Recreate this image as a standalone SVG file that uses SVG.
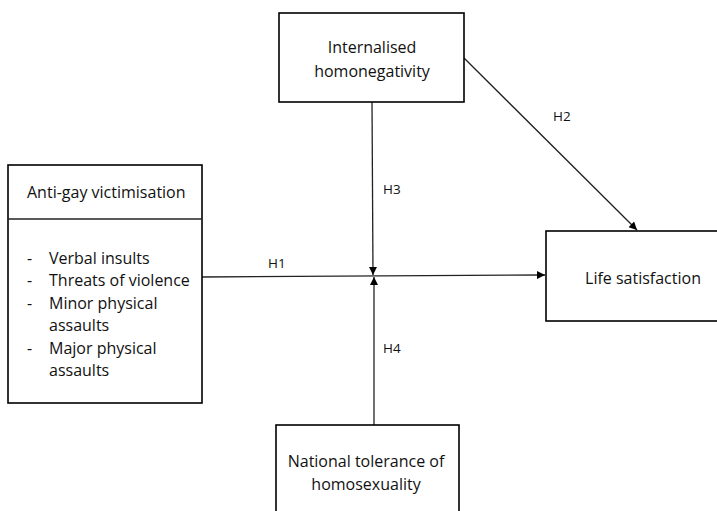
<svg xmlns="http://www.w3.org/2000/svg" width="717" height="511" viewBox="0 0 717 511">
<defs>
<marker id="arr" viewBox="0 0 10 10" refX="10" refY="5" markerWidth="9" markerHeight="8" markerUnits="userSpaceOnUse" orient="auto">
<path d="M0,0 L10,5 L0,10 Z" fill="#000"/>
</marker>
</defs>
<style>
.box{fill:#fff;stroke:#000;stroke-width:1.6}
.ln{fill:none;stroke:#222;stroke-width:1.3}
.t{font-family:"Open Sans","Liberation Sans",sans-serif;font-size:16px;fill:#111}
.c{text-anchor:middle}
.h{font-family:"Open Sans","Liberation Sans",sans-serif;font-size:13.5px;fill:#111}
</style>
<rect width="717" height="511" fill="#fff"/>
<g id="connectors">
<line class="ln" x1="202" y1="277" x2="545" y2="275" marker-end="url(#arr)"/>
<line class="ln" x1="372" y1="102" x2="373" y2="275" marker-end="url(#arr)"/>
<line class="ln" x1="374" y1="425" x2="374" y2="277" marker-end="url(#arr)"/>
<line class="ln" x1="464" y1="58" x2="637" y2="230" marker-end="url(#arr)"/>
<text class="h" x="268" y="268">H1</text>
<text class="h" x="553" y="121">H2</text>
<text class="h" x="383" y="194">H3</text>
<text class="h" x="383" y="353">H4</text>
</g>
<g id="anti-gay">
<rect class="box" x="8" y="165" width="194" height="238"/>
<line class="ln" x1="8" y1="219" x2="202" y2="219"/>
<text class="t" x="27" y="198">Anti-gay victimisation</text>
<g class="t">
<text x="27" y="264">-</text><text x="49" y="264">Verbal insults</text>
<text x="27" y="286">-</text><text x="49" y="286">Threats of violence</text>
<text x="27" y="309">-</text><text x="49" y="309">Minor physical</text>
<text x="49" y="331">assaults</text>
<text x="27" y="354">-</text><text x="49" y="354">Major physical</text>
<text x="49" y="376">assaults</text>
</g>
</g>
<g id="internalised">
<rect class="box" x="279" y="13" width="185" height="89"/>
<text class="t c" x="372" y="53">Internalised</text>
<text class="t c" x="372" y="77">homonegativity</text>
</g>
<g id="life">
<rect class="box" x="546" y="231" width="180" height="90"/>
<text class="t c" x="643" y="284">Life satisfaction</text>
</g>
<g id="national">
<rect class="box" x="276" y="425" width="183" height="100"/>
<text class="t c" x="366" y="467">National tolerance of</text>
<text class="t c" x="366" y="490">homosexuality</text>
</g>
</svg>
